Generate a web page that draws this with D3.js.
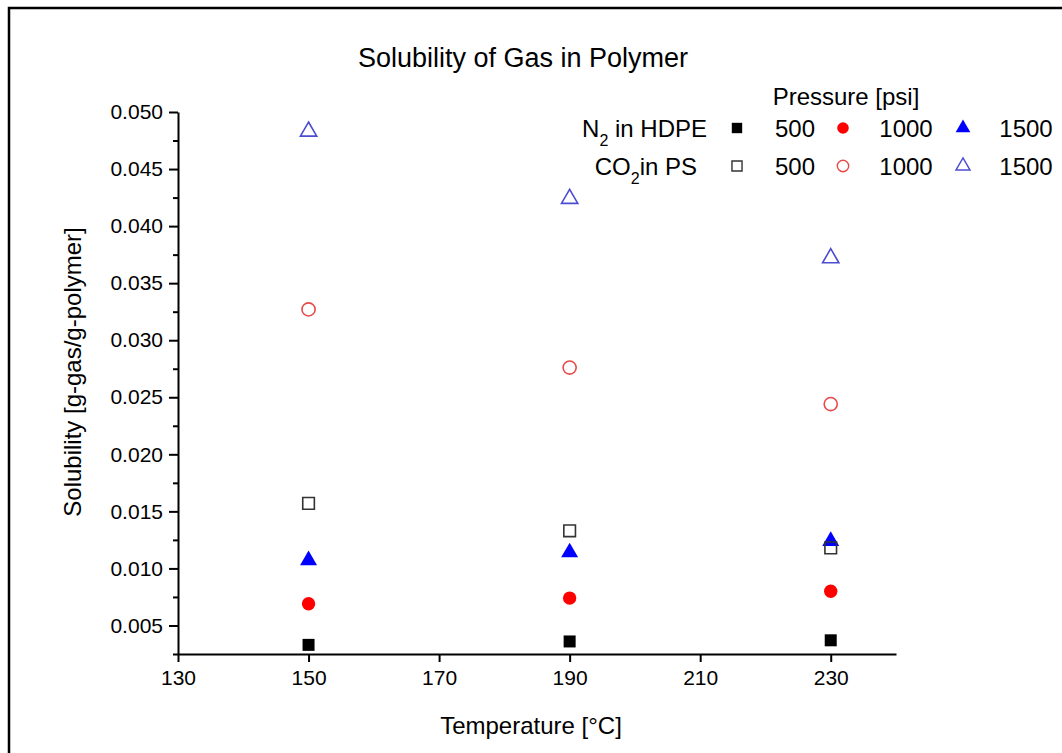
<!DOCTYPE html>
<html>
<head>
<meta charset="utf-8">
<script src="https://cdn.jsdelivr.net/npm/d3@7"></script>
<style>
  body { margin: 0; background: #fff; }
  svg { display: block; font-family: "Liberation Sans", Arial, sans-serif; }
</style>
</head>
<body>
<div id="chart"></div>
<script>
// Data
const temps = [150, 190, 230];
const n2_500 = [0.0033, 0.0036, 0.0037];
const n2_1000 = [0.0069, 0.0074, 0.0080];
const n2_1500 = [0.0107, 0.0114, 0.0124];
const co2_500 = [0.0157, 0.0133, 0.0118];
const co2_1000 = [0.0327, 0.0276, 0.0244];
const co2_1500 = [0.0483, 0.0424, 0.0372];

const xTicks = [130, 150, 170, 190, 210, 230];
const yTicks = [0.005, 0.010, 0.015, 0.020, 0.025, 0.030, 0.035, 0.040, 0.045, 0.050];
const yMinor = [0.0025, 0.0075, 0.0125, 0.0175, 0.0225, 0.0275, 0.0325, 0.0375, 0.0425, 0.0475];
const pressures = ["500", "1000", "1500"];

const w = 1062, h = 753;

// series styles
const series = [
  { vals: n2_500, shape: d3.symbolSquare, size: 144, fill: "#000", stroke: "none" },
  { vals: n2_1000, shape: d3.symbolCircle, size: 140, fill: "#ff0000", stroke: "none" },
  { vals: n2_1500, shape: d3.symbolTriangle, size: 125, fill: "#0000ff", stroke: "none" },
  { vals: co2_500, shape: d3.symbolSquare, size: 135, fill: "none", stroke: "#333" },
  { vals: co2_1000, shape: d3.symbolCircle, size: 135, fill: "none", stroke: "#e84848" },
  { vals: co2_1500, shape: d3.symbolTriangle, size: 115, fill: "none", stroke: "#4c4cd2" }
];

const svg = d3.select("#chart").append("svg")
  .attr("width", w)
  .attr("height", h);

// outer frame (runs off right/bottom)
svg.append("rect")
  .attr("x", 9).attr("y", 8)
  .attr("width", 1100).attr("height", 800)
  .attr("fill", "none")
  .attr("stroke", "#000")
  .attr("stroke-width", 2.5);

const xScale = d3.scaleLinear().domain([130, 240]).range([178, 896]);
const yScale = d3.scaleLinear().domain([0.0025, 0.050]).range([654, 112]);

// axes
const xAxis = d3.axisBottom(xScale).tickValues(xTicks).tickFormat(d3.format("d"))
  .tickSizeInner(8).tickSizeOuter(0).tickPadding(8);
const yAxis = d3.axisLeft(yScale).tickValues(yTicks).tickFormat(d3.format(".3f"))
  .tickSizeInner(9).tickSizeOuter(0).tickPadding(6);
const yAxisMinor = d3.axisLeft(yScale).tickValues(yMinor).tickFormat("")
  .tickSizeInner(5).tickSizeOuter(0);

const gx = svg.append("g")
  .attr("transform", "translate(0," + yScale(0.0025) + ")")
  .call(xAxis);
const gy = svg.append("g")
  .attr("transform", "translate(" + xScale(130) + ",0)")
  .call(yAxis);
const gym = svg.append("g")
  .attr("transform", "translate(" + xScale(130) + ",0)")
  .call(yAxisMinor);

[gx, gy, gym].forEach(g => {
  g.selectAll("path, line").attr("stroke", "#000").attr("stroke-width", 2);
  g.selectAll("text").attr("fill", "#000").style("font-size", "21px").style("font-family", "Liberation Sans, Arial, sans-serif");
});
gym.select("path").remove();

// points
series.forEach(s => {
  svg.append("g").selectAll("path")
    .data(s.vals)
    .enter()
    .append("path")
    .attr("transform", (d, i) => "translate(" + xScale(temps[i]) + "," + yScale(d) + ")")
    .attr("d", d3.symbol().type(s.shape).size(s.size))
    .attr("fill", s.fill)
    .attr("stroke", s.stroke)
    .attr("stroke-width", 1.6);
});

// titles
svg.append("text")
  .attr("x", 523).attr("y", 67)
  .attr("text-anchor", "middle")
  .style("font-size", "27px")
  .text("Solubility of Gas in Polymer");

svg.append("text")
  .attr("transform", "translate(81,372) rotate(-90)")
  .attr("text-anchor", "middle")
  .style("font-size", "24px")
  .text("Solubility [g-gas/g-polymer]");

svg.append("text")
  .attr("x", 531).attr("y", 734)
  .attr("text-anchor", "middle")
  .style("font-size", "24px")
  .text("Temperature [°C]");

// legend
const lg = svg.append("g").style("font-size", "24px");
lg.append("text").attr("x", 846).attr("y", 105).attr("text-anchor", "middle").text("Pressure [psi]");

const rowY = [128, 166];
const n2Label = lg.append("text").attr("x", 707).attr("y", rowY[0] + 9).attr("text-anchor", "end");
n2Label.append("tspan").text("N");
n2Label.append("tspan").attr("dy", 9).style("font-size", "16px").text("2");
n2Label.append("tspan").attr("dy", -9).text(" in HDPE");

const co2Label = lg.append("text").attr("x", 697).attr("y", rowY[1] + 9).attr("text-anchor", "end");
co2Label.append("tspan").text("CO");
co2Label.append("tspan").attr("dy", 9).style("font-size", "16px").text("2");
co2Label.append("tspan").attr("dy", -9).text("in PS");

const markX = [737, 843, 963];
const numX = [795, 906, 1026];
series.forEach((s, i) => {
  const row = Math.floor(i / 3), col = i % 3;
  lg.append("path")
    .attr("transform", "translate(" + markX[col] + "," + rowY[row] + ")")
    .attr("d", d3.symbol().type(s.shape).size(s.size * 0.75))
    .attr("fill", s.fill)
    .attr("stroke", s.stroke)
    .attr("stroke-width", 1.4);
  lg.append("text")
    .attr("x", numX[col]).attr("y", rowY[row] + 9)
    .attr("text-anchor", "middle")
    .text(pressures[col]);
});
</script>
</body>
</html>
